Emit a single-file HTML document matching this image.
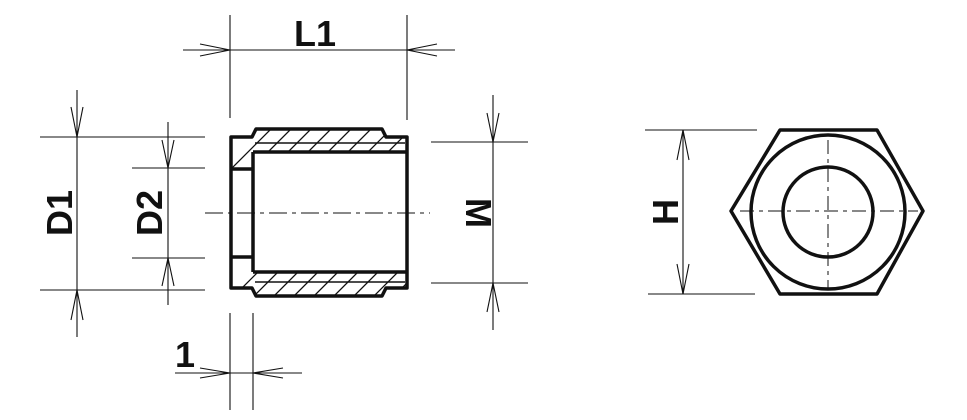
<!DOCTYPE html>
<html><head><meta charset="utf-8"><style>
html,body{margin:0;padding:0;background:#fff;}
svg{display:block;}
text{font-family:"Liberation Sans",sans-serif;font-weight:bold;fill:#111;}
</style></head><body>
<svg width="967" height="420" viewBox="0 0 967 420" xmlns="http://www.w3.org/2000/svg">
<defs>
<clipPath id="ct"><path d="M231,137 L252,137 L256,129 L382,129 L386,137 L407,137 L407,152 L253,152 L253,169 L231,169 Z"/></clipPath>
<clipPath id="cb"><path d="M231,257 L253,257 L253,272 L407,272 L407,288 L386,288 L382,296 L256,296 L252,288 L231,288 Z"/></clipPath>
</defs>
<g stroke="#111" fill="none">
<!-- hatching -->
<g stroke-width="1.3" clip-path="url(#ct)">
<path d="M220,180 l60,-60 M240,180 l60,-60 M260,180 l60,-60 M280,180 l60,-60 M300,180 l60,-60 M320,180 l60,-60 M340,180 l60,-60 M360,180 l60,-60 M380,180 l60,-60 M400,180 l60,-60"/>
</g>
<g stroke-width="1.3" clip-path="url(#cb)">
<path d="M220,310 l60,-60 M240,310 l60,-60 M260,310 l60,-60 M280,310 l60,-60 M300,310 l60,-60 M320,310 l60,-60 M340,310 l60,-60 M360,310 l60,-60 M380,310 l60,-60 M400,310 l60,-60"/>
</g>
<!-- body outline -->
<g stroke-width="3.5" stroke-linejoin="round">
<path d="M231,137 L252,137 L256,129 L382,129 L386,137 L407,137 L407,288 L386,288 L382,296 L256,296 L252,288 L231,288 Z"/>
<path d="M253,152 L407,152 M253,272 L407,272 M253,152 L253,272"/>
<path d="M231,169 L253,169 M231,257 L253,257"/>
</g>
<path d="M255,143 L405,143 M255,282 L405,282" stroke-width="1.5"/>
<!-- centerline -->
<path d="M205,213 L430,213" stroke-width="1" stroke-dasharray="18,5,4,5"/>
<!-- dimension lines thin -->
<g stroke-width="1.1">
<!-- L1 -->
<path d="M230,15 L230,118 M407,15 L407,120 M183,50 L455,50"/>
<path d="M200,44 L230,50 L200,56 M437,44 L407,50 L437,56"/>
<!-- D1 -->
<path d="M40,137 L205,137 M40,290 L205,290 M77,90 L77,337"/>
<path d="M71,107 L77,137 L83,107 M71,320 L77,290 L83,320"/>
<!-- D2 -->
<path d="M132,168 L205,168 M132,258 L205,258 M168,122 L168,305"/>
<path d="M162,140 L168,168 L174,140 M162,286 L168,258 L174,286"/>
<!-- M -->
<path d="M431,142 L528,142 M431,283 L528,283 M493,95 L493,330"/>
<path d="M487,113 L493,142 L499,113 M487,312 L493,283 L499,312"/>
<!-- 1 -->
<path d="M230,313 L230,410 M253,313 L253,410 M175,373 L302,373"/>
<path d="M200,368 L230,373 L200,378 M283,368 L253,373 L283,378"/>
<!-- H -->
<path d="M645,130 L757,130 M648,294 L755,294 M683,130 L683,294"/>
<path d="M677,160 L683,130 L689,160 M677,264 L683,294 L689,264"/>
</g>
<!-- hex view -->
<g stroke-width="3.5">
<path d="M780,130 L877,130 L923,211 L877,294 L780,294 L731,211 Z" stroke-linejoin="round"/>
<circle cx="828" cy="212" r="77"/>
<circle cx="828" cy="212" r="45"/>
</g>
<path d="M740,211 L918,211 M828,140 L828,288" stroke-width="1" stroke-dasharray="14,5,4,5"/>
</g>
<text x="315" y="46" font-size="36" text-anchor="middle">L1</text>
<text transform="translate(72,213) rotate(-90)" font-size="36" text-anchor="middle">D1</text>
<text transform="translate(162,213) rotate(-90)" font-size="36" text-anchor="middle">D2</text>
<text transform="translate(466,213) rotate(90)" font-size="36" text-anchor="middle">M</text>
<text transform="translate(678,212) rotate(-90)" font-size="36" text-anchor="middle">H</text>
<text x="185" y="367" font-size="36" text-anchor="middle">1</text>
</svg>
</body></html>
